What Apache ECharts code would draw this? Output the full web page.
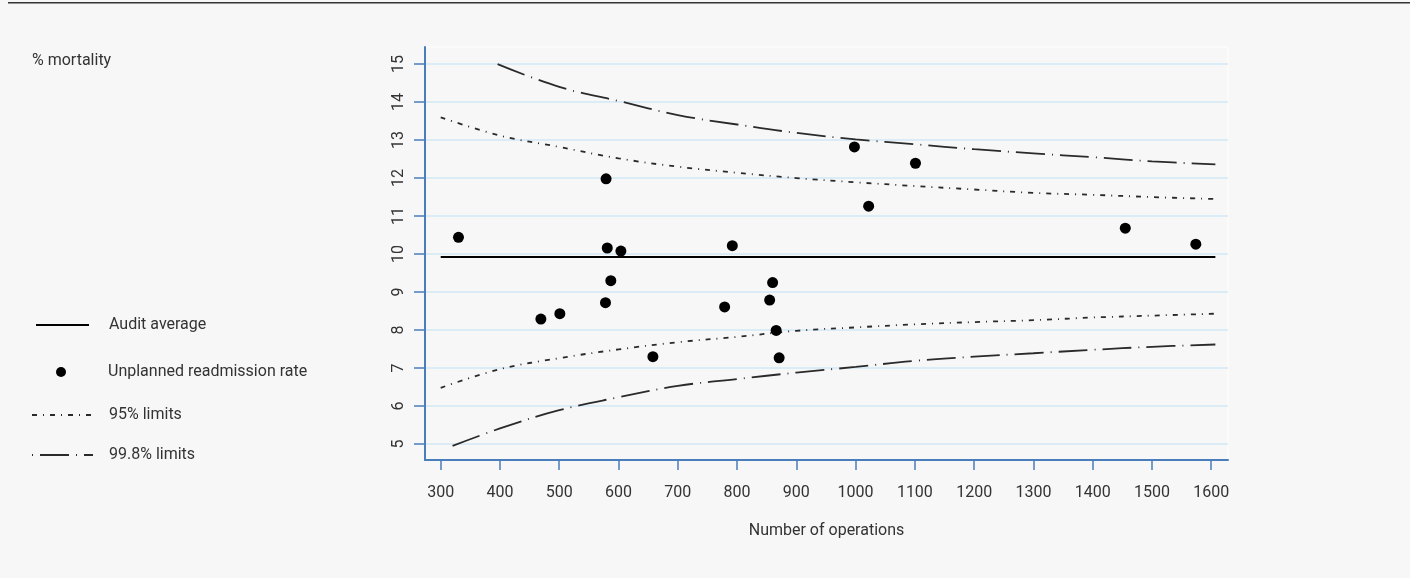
<!DOCTYPE html>
<html>
<head>
<meta charset="utf-8">
<script src="https://cdn.jsdelivr.net/npm/echarts@6/dist/echarts.min.js"></script>
<style>
html,body{margin:0;padding:0;background:#f7f7f7;}
#chart{width:1410px;height:578px;}
</style>
</head>
<body>
<div id="chart"></div>
<script>
// ---- data ----
const xTicks = [300,400,500,600,700,800,900,1000,1100,1200,1300,1400,1500,1600];
const yTicks = [5,6,7,8,9,10,11,12,13,14,15];

const avgX = [300, 1607];
const avgY = [9.92, 9.92];

const ptsX = [330, 469, 501, 579, 581, 604, 587, 578, 658, 792, 860, 855, 779, 866, 871, 998, 1101, 1022, 1455, 1574];
const ptsY = [10.44, 8.29, 8.43, 11.98, 10.16, 10.08, 9.30, 8.72, 7.30, 10.22, 9.25, 8.79, 8.61, 7.99, 7.27, 12.82, 12.39, 11.26, 10.68, 10.26];

const up95X = [300, 400, 500, 600, 700, 800, 900, 1000, 1100, 1200, 1300, 1400, 1500, 1607];
const up95Y = [13.60, 13.12, 12.82, 12.52, 12.30, 12.14, 12.00, 11.89, 11.79, 11.70, 11.61, 11.56, 11.50, 11.45];
const lo95X = [300, 400, 500, 600, 700, 800, 900, 1000, 1100, 1200, 1300, 1400, 1500, 1607];
const lo95Y = [6.48, 6.97, 7.26, 7.49, 7.68, 7.82, 7.98, 8.07, 8.15, 8.21, 8.26, 8.33, 8.38, 8.43];

const up998X = [396, 500, 600, 700, 800, 900, 1000, 1100, 1200, 1300, 1400, 1500, 1607];
const up998Y = [15.00, 14.40, 14.03, 13.66, 13.41, 13.19, 13.02, 12.89, 12.76, 12.65, 12.55, 12.44, 12.36];
const lo998X = [320, 400, 500, 600, 700, 800, 900, 1000, 1100, 1200, 1300, 1400, 1500, 1607];
const lo998Y = [4.95, 5.41, 5.89, 6.23, 6.53, 6.71, 6.88, 7.03, 7.19, 7.30, 7.39, 7.48, 7.56, 7.62];

const zip = (xs, ys) => xs.map((x, i) => [x, ys[i]]);

// ---- styles ----
const FONT = "Roboto, 'Liberation Sans', Arial, sans-serif";
const FS = 16;
const TXT = '#333333';
const AXIS = '#4a7ebb';
const DASH95 = [5, 6, 1, 6];
const DASH998 = [29, 7, 1, 7];
const LIM = '#2a2a2a';

const chart = echarts.init(document.getElementById('chart'), null, {renderer: 'canvas'});

function legendItem(name, left, centerY, w, h, padLeft, extra) {
  return Object.assign({
    data: [name],
    left: left,
    top: centerY - h / 2,
    orient: 'vertical',
    padding: 0,
    itemWidth: w,
    itemHeight: h,
    selectedMode: false,
    textStyle: {fontFamily: FONT, fontSize: FS, color: TXT, padding: [0, 0, 0, padLeft]}
  }, extra || {});
}
const hideSym = {itemStyle: {opacity: 0, borderWidth: 0}};

chart.setOption({
  backgroundColor: '#f7f7f7',
  animation: false,
  title: {
    text: '% mortality',
    left: 32, top: 53, padding: 0,
    textStyle: {fontFamily: FONT, fontSize: FS, fontWeight: 'normal', color: TXT}
  },
  graphic: [{
    type: 'rect', shape: {x: 8, y: 2, width: 1402, height: 1.4},
    style: {fill: '#333'}, silent: true
  }],
  legend: [
    legendItem('Audit average', 35, 323, 53, 12, 15, hideSym),
    legendItem('Unplanned readmission rate', 56, 369, 10, 10, 37),
    legendItem('95% limits', 31, 413, 61, 12, 11, Object.assign({lineStyle: {type: DASH95, dashOffset: 0}}, hideSym)),
    legendItem('99.8% limits', 31, 453, 61, 12, 11, Object.assign({lineStyle: {type: DASH998, dashOffset: 36}}, hideSym))
  ],
  grid: {
    left: 425, right: 182, top: 47, bottom: 118,
    show: true, borderColor: '#ffffff', borderWidth: 1, backgroundColor: 'transparent'
  },
  xAxis: {
    type: 'value',
    min: 273.5, max: 1628.3,
    name: 'Number of operations',
    nameLocation: 'middle',
    nameGap: 63,
    nameTextStyle: {fontFamily: FONT, fontSize: FS, color: TXT},
    axisLine: {show: true, onZero: false, lineStyle: {color: AXIS, width: 2}},
    axisTick: {show: true, customValues: xTicks, length: 10, lineStyle: {color: AXIS, width: 1.5}},
    axisLabel: {customValues: xTicks, margin: 25, fontFamily: FONT, fontSize: FS, color: TXT,
      formatter: v => String(v)},
    splitLine: {show: false}
  },
  yAxis: {
    type: 'value',
    min: 4.58, max: 15.45,
    axisLine: {show: true, onZero: false, lineStyle: {color: AXIS, width: 2}},
    axisTick: {show: true, customValues: yTicks, length: 11, lineStyle: {color: AXIS, width: 1.5}},
    axisLabel: {customValues: yTicks, rotate: 90, margin: 18, fontFamily: FONT, fontSize: FS, color: TXT,
      formatter: v => String(v)},
    splitLine: {show: true, lineStyle: {color: '#d3e8f6', width: 1.5}}
  },
  series: [
    {
      name: 'Audit average', type: 'line', data: zip(avgX, avgY),
      symbol: 'none', lineStyle: {color: '#000', width: 2}, itemStyle: {color: '#000'}, z: 3
    },
    {
      name: '95% limits', type: 'line', data: zip(up95X, up95Y), smooth: 0.4,
      symbol: 'none', lineStyle: {color: LIM, width: 1.8, type: DASH95}, itemStyle: {color: LIM}, z: 2
    },
    {
      name: '95% limits', type: 'line', data: zip(lo95X, lo95Y), smooth: 0.4,
      symbol: 'none', lineStyle: {color: LIM, width: 1.8, type: DASH95}, itemStyle: {color: LIM}, z: 2
    },
    {
      name: '99.8% limits', type: 'line', data: zip(up998X, up998Y), smooth: 0.4,
      symbol: 'none', lineStyle: {color: LIM, width: 1.8, type: DASH998}, itemStyle: {color: LIM}, z: 2
    },
    {
      name: '99.8% limits', type: 'line', data: zip(lo998X, lo998Y), smooth: 0.4,
      symbol: 'none', lineStyle: {color: LIM, width: 1.8, type: DASH998}, itemStyle: {color: LIM}, z: 2
    },
    {
      name: 'Unplanned readmission rate', type: 'scatter', data: zip(ptsX, ptsY),
      symbol: 'circle', symbolSize: 11, itemStyle: {color: '#000', opacity: 1}, z: 5
    }
  ]
});
</script>
</body>
</html>
